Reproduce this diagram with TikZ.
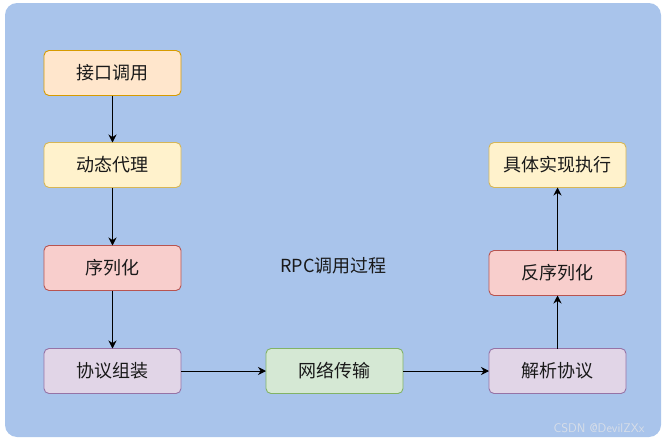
\documentclass[tikz,border=0pt]{standalone}
\usepackage{fontspec}
\newfontfamily\cjk{Noto Sans CJK SC}
\usepackage{tikz}
\usetikzlibrary{arrows.meta,positioning}
\usepackage{xcolor}
\definecolor{bgblue}{HTML}{A9C4EB}
\definecolor{orangefill}{HTML}{FFE6CC}
\definecolor{orangeline}{HTML}{D79B00}
\definecolor{yellowfill}{HTML}{FFF2CC}
\definecolor{yellowline}{HTML}{D6B656}
\definecolor{redfill}{HTML}{F8CECC}
\definecolor{redline}{HTML}{B85450}
\definecolor{purplefill}{HTML}{E1D5E7}
\definecolor{purpleline}{HTML}{9673A6}
\definecolor{greenfill}{HTML}{D5E8D4}
\definecolor{greenline}{HTML}{82B366}
\definecolor{markgray}{HTML}{D8DEE8}

\begin{document}
\begin{tikzpicture}[x=1pt,y=-1pt,
	orangebox/.style={fill=orangefill,draw=orangeline},
	yellowbox/.style={fill=yellowfill,draw=yellowline},
	redbox/.style={fill=redfill,draw=redline},
	purplebox/.style={fill=purplefill,draw=purpleline},
	greenbox/.style={fill=greenfill,draw=greenline}]
	\useasboundingbox (0,0) rectangle (665,442);
	\fill[bgblue,rounded corners=12pt] (5,3) rectangle (661,437);

	\begin{scope}[every node/.style={rectangle,rounded corners=5pt,line width=0.9pt,minimum height=45pt,minimum width=137pt,inner sep=0pt,outer sep=0pt,text=black!90,font=\cjk\fontsize{18}{21}\selectfont}]
		\node[orangebox] (call) at (112.5,73) {接口调用};
		\node[yellowbox,below =47pt of call] (proxy) {动态代理};
		\node[redbox,below =58pt of proxy] (serial) {序列化};
		\node[purplebox,below =58pt of serial] (pack) {协议组装};
		\node[greenbox,right =85pt of pack] (net) {网络传输};
		\node[purplebox,right =86pt of net] (parse) {解析协议};
		\node[redbox,above =53pt of parse] (deserial) {反序列化};
		\node[yellowbox,above =63pt of deserial] (exec) {具体实现执行};
		\node[draw=none,fill=none] (title) at (333.5,266) {RPC调用过程};
	\end{scope}

	\node[text=markgray,font=\sffamily\fontsize{12.5}{15}\selectfont] (mark) at (599,428) {CSDN @DevilZXx};

	\begin{scope}[line width=0.9pt,-{Stealth[length=8pt,width=8pt]}]
	\draw (call) -- (proxy);
	\draw (proxy) -- (serial);
	\draw (serial) -- (pack);
	\draw (pack) -- (net);
	\draw (net) -- (parse);
	\draw (parse) -- (deserial);
	\draw (deserial) -- (exec);
	\end{scope}
\end{tikzpicture}
\end{document}
